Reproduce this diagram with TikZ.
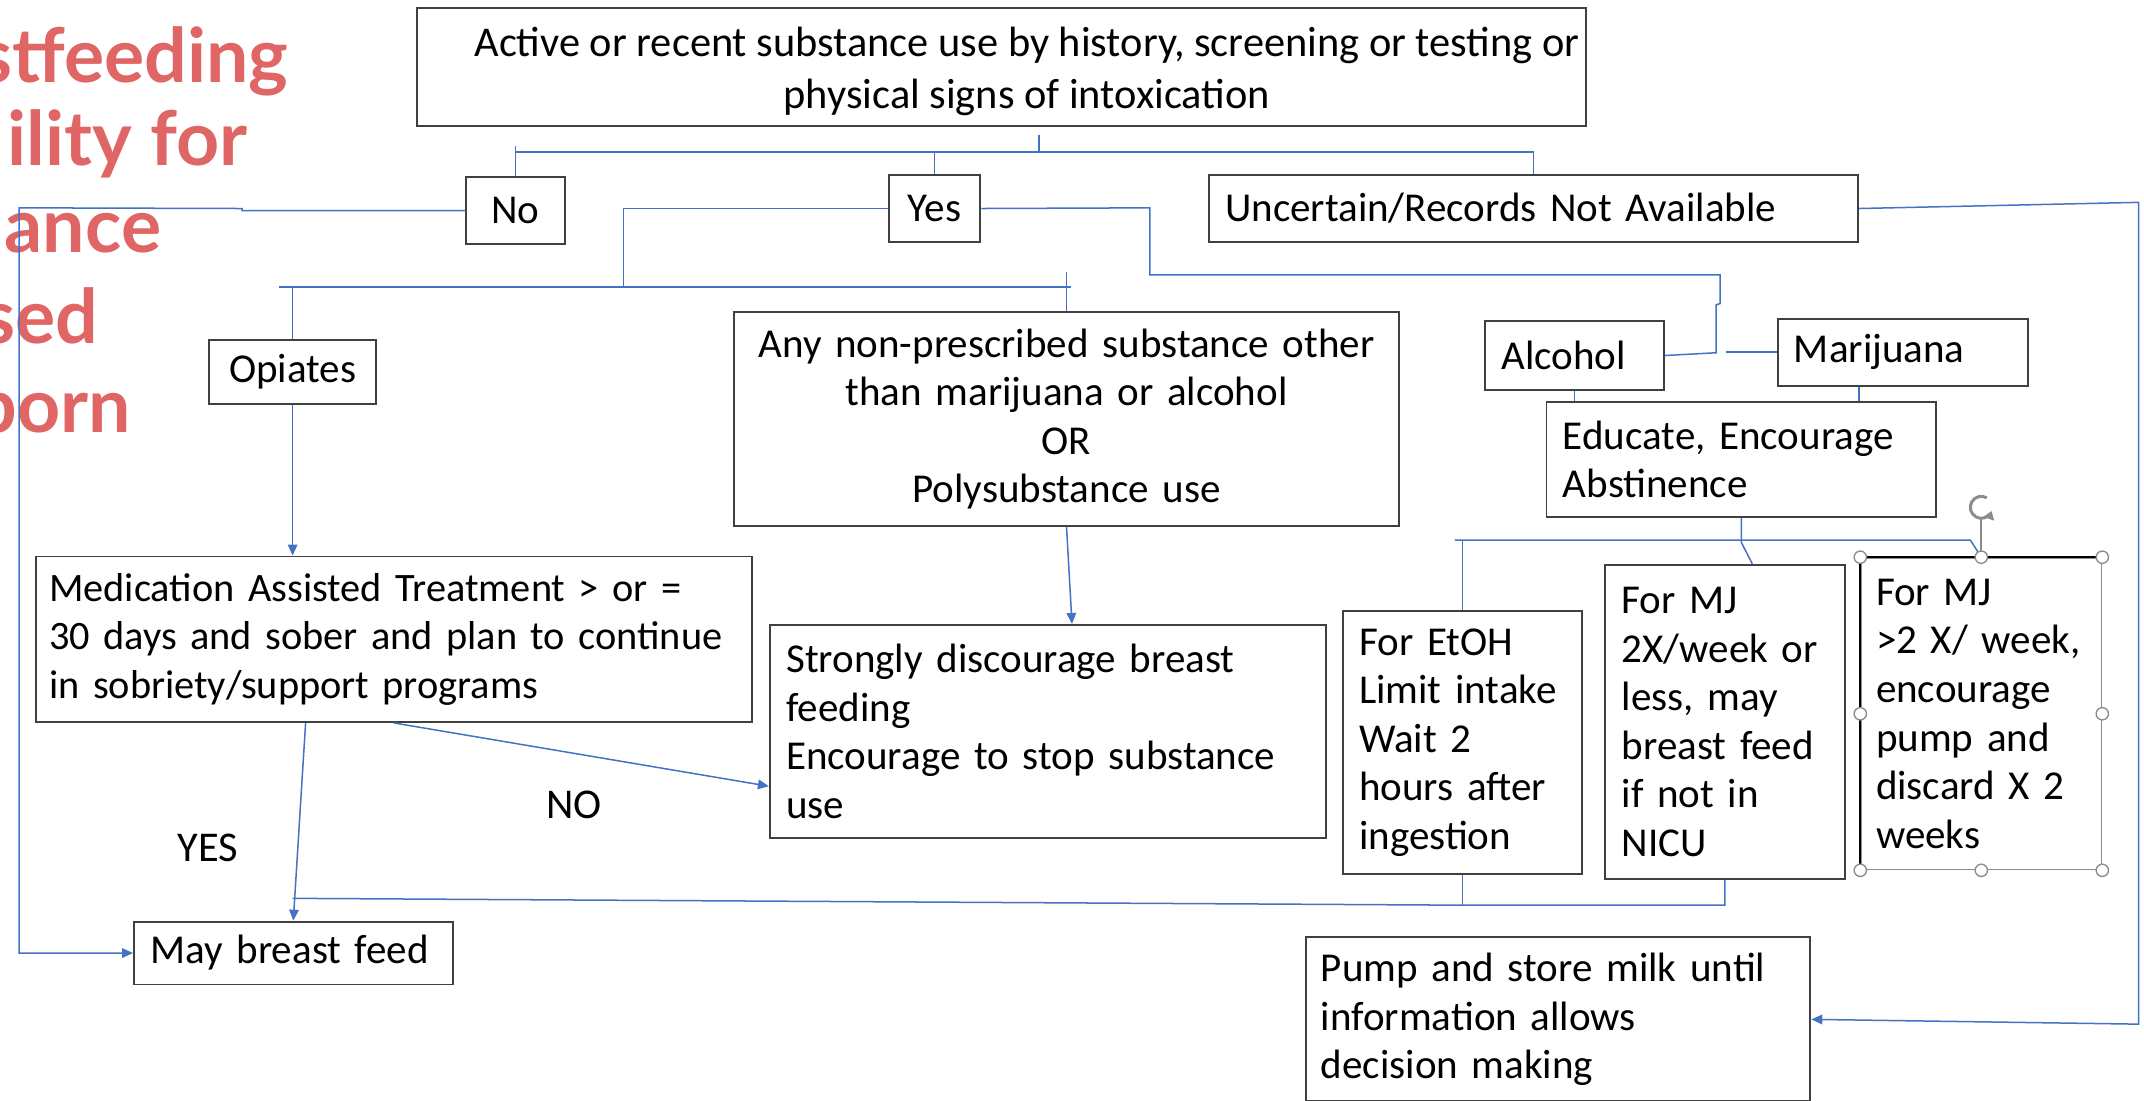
\documentclass[tikz,border=0pt]{standalone}
\usepackage{fontspec}
\setmainfont{Carlito}
\newfontfamily\headfont{Lato}
\usetikzlibrary{arrows.meta}

\definecolor{headred}{RGB}{224,102,102}
\definecolor{linkblue}{RGB}{68,114,196}
\definecolor{boxline}{RGB}{64,64,64}
\definecolor{handlegray}{RGB}{140,140,140}

\tikzset{
	box/.style={draw=boxline, line width=1.4pt, inner xsep=12pt, inner ysep=0pt,
			font=\fontsize{30}{35.5}\selectfont},
	tbox/.style={box, align=left, text width=#1},
	conn/.style={draw=linkblue, line width=1.1pt},
	headline/.style={anchor=base east, inner sep=0pt, text=headred,
			font=\headfont\bfseries\fontsize{55}{64}\selectfont},
	lbl/.style={inner sep=0pt, font=\fontsize{31}{38}\selectfont},
	selhandle/.style={circle, draw=handlegray, fill=white, line width=1pt,
			inner sep=0pt, minimum size=9pt}
}

\begin{document}
\begin{tikzpicture}[x=1pt, y=-1pt, >={Triangle[length=8pt,width=7pt]}]
	\useasboundingbox (0,0) rectangle (1568,805);
	\clip (0,0) rectangle (1568,805);

	% slide heading, cut off at the left edge
	\node[headline] (h1) at (211,60) {stfeeding};
	\node[headline] (h2) at (181,121) {ility for};
	\node[headline] (h3) at (118,185) {ance};
	\node[headline] (h4) at (72,251) {sed};
	\node[headline] (h5) at (96,316) {born};

	% boxes
	\node[box, minimum width=855pt, minimum height=86pt] (top) at (732.5,49) {};
	\node[lbl, align=center] (toptext) at ([xshift=18.5pt,yshift=-3pt]top.center)
		{Active or recent substance use by history, screening or testing or\\physical signs of intoxication};
	\node[box, minimum width=72pt, minimum height=49pt] (no) at (377,154) {No};
	\node[box, minimum width=67pt, minimum height=49pt] (yes) at (683.5,152.5) {Yes};
	\node[tbox=451pt, minimum height=49pt] (unc) at (1121.5,152.5) {Uncertain/Records Not Available};
	\node[box, minimum width=122pt, minimum height=47pt] (opi) at (214,272) {Opiates};
	\node[box, align=center, text width=462pt, minimum height=156pt] (any) at (780,306.5)
		{Any non-prescribed substance other\\than marijuana or alcohol\\OR\\Polysubstance use};
	\node[tbox=107pt, minimum height=50pt] (alc) at (1151.5,260) {Alcohol};
	\node[tbox=159pt, minimum height=49pt] (mar) at (1391.5,257.5) {Marijuana};
	\node[tbox=261pt, minimum height=84pt] (edu) at (1273.5,336) {Educate, Encourage\\Abstinence};
	\node[tbox=504pt, inner xsep=10pt, font=\fontsize{29.5}{35.5}\selectfont, minimum height=121pt] (mat) at (288,467.5)
		{Medication Assisted Treatment > or =\\30 days and sober and plan to continue\\in sobriety/support programs};
	\node[tbox=383pt, minimum height=156pt] (strong) at (766.5,535)
		{Strongly discourage breast\\feeding\\Encourage to stop substance\\use};
	\node[tbox=151pt, minimum height=192pt] (etoh) at (1069.5,543)
		{For EtOH\\Limit intake\\Wait 2\\hours after\\ingestion};
	\node[tbox=151pt, minimum height=230pt] (mj2) at (1261.5,528)
		{For MJ\\2X/week or\\less, may\\breast feed\\if not in\\NICU};
	\node[tbox=154pt, inner xsep=11pt, draw=handlegray, line width=1pt, minimum height=228pt] (mj3) at (1449,522)
		{For MJ\\>2 X/ week,\\encourage\\pump and\\discard X 2\\weeks};
	\node[tbox=209pt, minimum height=46pt] (may) at (214.5,697) {May breast feed};
	\node[tbox=347pt, inner xsep=11pt, minimum height=120pt] (pump) at (1139.5,745.5)
		{Pump and store milk until\\information allows\\decision making};

	\node[lbl] (yeslbl) at (152,620) {YES};
	\node[lbl] (nolbl) at (420,589) {NO};

	% first split
	\coordinate (hub) at (760,111);
	\draw[conn] (top.south -| hub) ++(0,6) -- (hub);
	\draw[conn] (no.north |- hub) ++(0,-4) -- (no.north);
	\draw[conn] (no.north |- hub) -- (unc.north |- hub) -- (unc.north);
	\draw[conn] (yes.north |- hub) -- (yes.north);

	% No: round the left edge
	\coordinate (nobend) at (177,154);
	\coordinate (leftedge) at (14,152);
	\draw[conn, ->] (no.west) -- (nobend) -- ++(0,-1.5) -- (leftedge) |- (may.west);

	% Yes, left side
	\coordinate (ysplit) at (456,210);
	\coordinate (barL) at (204,210);
	\coordinate (barR) at (783,210);
	\draw[conn] (yes.west) -| (ysplit);
	\draw[conn] (barL) -- (barR);
	\draw[conn] (opi.north |- barL) -- (opi.north);
	\draw[conn] (any.north) -- ++(0,-29);

	% Yes, right side
	\coordinate (yr) at (841,152);
	\coordinate (amjoin) at (1255,258);
	\draw[conn] (yes.east) -- (yr) |- (1258,201) -- (1258,222) -- (1255,223) -- (amjoin) -- (alc.east);
	\draw[conn] (mar.west) -- (1262,257.5);
	\draw[conn] (alc.south) -- (alc.south |- edu.north);
	\draw[conn] ([xshift=-32pt]mar.south) -- ([xshift=-32pt]mar.south |- edu.north);

	% Educate to the advice boxes
	\coordinate (advL) at (1064,395);
	\coordinate (advR) at (1441,395);
	\draw[conn] (edu.south) -- ++(0,18) -- ([xshift=20pt]mj2.north);
	\draw[conn] (advL) -- (advR) -- (mj3.north);
	\draw[conn] (etoh.north) -- (etoh.north |- advL);

	% back to May breast feed
	\coordinate (lowjoin) at (1069.5,662);
	\coordinate (mayjoin) at (214,657);
	\draw[conn] (etoh.south) -- (lowjoin);
	\draw[conn] (mj2.south) |- (lowjoin) -- (mayjoin);
	\draw[conn, ->] (opi.south) -- (opi.south |- mat.north);
	\draw[conn, ->] (may.north |- mat.south) ++(9,0) -- (may.north);
	\draw[conn, ->] (mat.south) -- ([yshift=-40pt]strong.west);
	\draw[conn, ->] (any.south) -- ([xshift=4pt]any.south |- strong.north);

	% Uncertain: down the right edge
	\coordinate (rtop) at (1564,148);
	\coordinate (rbot) at (1564,749);
	\draw[conn, ->] (unc.east) -- (rtop) -- (rbot) -- (pump.east);

	% selection frame on the last box
	\draw[black, line width=1.5pt] (mj3.south west) -- (mj3.north west) -- (mj3.north east);
	\coordinate (rot) at (1449,371);
	\draw[handlegray, line width=1.2pt] (mj3.north) -- ++(0,-28);
	\draw[handlegray, line width=2.2pt, -{Triangle[length=6pt,width=8pt]}]
		(rot) ++(-60:8) arc[start angle=-60, end angle=-340, radius=8];
	\foreach \a [count=\i] in {north west,north,north east,west,east,south west,south,south east}
		\node[selhandle] (sel\i) at (mj3.\a) {};
\end{tikzpicture}
\end{document}
